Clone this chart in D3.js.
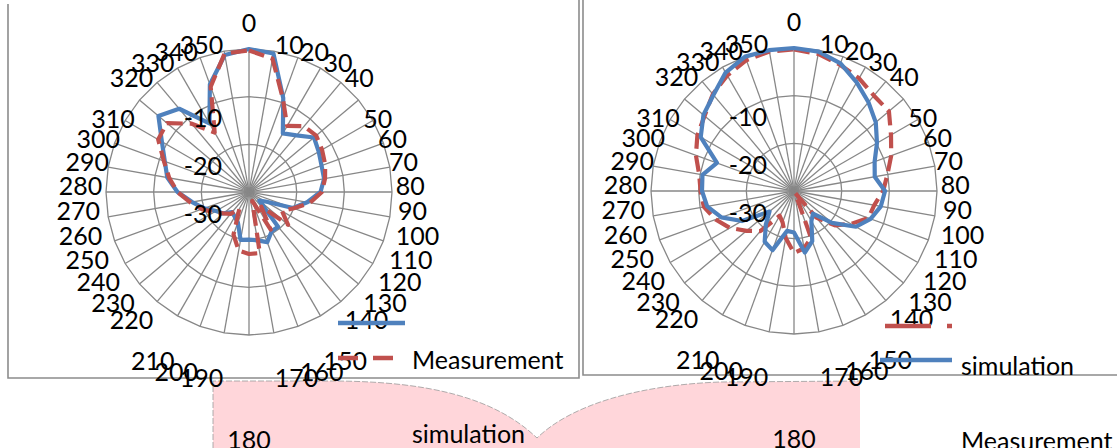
<!DOCTYPE html>
<html>
<head>
<meta charset="utf-8">
<script src="https://cdn.jsdelivr.net/npm/d3@7"></script>
<style>
  body { margin: 0; background: #fff; overflow: hidden; }
  text { font-family: Lato, "Open Sans", sans-serif; fill: #000; }
</style>
</head>
<body>
<svg id="svgContenedor" width="1117" height="448"></svg>
<script>
// angles of the radar categories (degrees)
const angles = d3.range(0, 360, 10);
const gridValues = [-20, -10, 0];
const axisLabels = [-10, -20, -30];

// left chart
const leftSimulation = [0, -0.5, -9, -15.8, -14.5, -12.2, -13.1, -13.8, -14, -15,
  -17.6, -20.2, -26, -27.2, -20.5, -20.5, -18.8, -19.7, -20, -19.8,
  -23.2, -24, -24.5, -23, -22, -20, -17.9, -15, -12.6, -11.2,
  -8.9, -5.2, -7.2, -13.4, -6, -0.8];
const leftMeasurement = [-0.3, -1.6, -9.2, -14, -12, -11.6, -12.3, -13, -13.8, -14.7,
  -17, -20, -22, -19.3, -26, -20.9, -28, -17, -17, -17.5,
  -20.5, -26, -24, -23, -21.5, -19.5, -17.5, -15, -13, -11,
  -8, -7.5, -11.3, -15.6, -6.5, -0.5];

// right chart
const rightMeasurement = [-0.3, -0.8, -1.8, -2.7, -3.9, -4, -6.5, -8.3, -10.1, -11.3,
  -12.9, -13.4, -16.2, -18.8, -22.7, -29.5, -19.5, -17.8, -17, -20,
  -23, -24, -19, -17, -14.5, -12.5, -10.8, -10.4, -9.8, -8.1,
  -6.6, -5.5, -3.5, -2, -0.8, -0.3];
const rightSimulation = [0, -0.3, -1.5, -3.7, -5.7, -7.6, -9.9, -12, -12.8, -10.9,
  -11.5, -12.9, -15, -19.6, -23.8, -22.7, -18.8, -16.9, -21.3, -21.5,
  -16.8, -17.7, -20.8, -23.3, -17.4, -13.8, -11.5, -10.7, -10.5, -12.8,
  -7.4, -5.2, -3.7, -1.3, 0, 0];

const BLUE = "#4f81bd";
const RED = "#c0504d";
const GRID = "#878787";
const FONT = "25px";

const svg = d3.select("#svgContenedor");

// pink shapes behind the charts
svg.append("path")
  .attr("d", "M213,448 V381 L330,381 C430,381 495,398 537,438 V448 Z")
  .attr("fill", "#ffd6da");
svg.append("path")
  .attr("d", "M537,448 V438 C572,404 640,385 720,382 L860,381 V448 Z")
  .attr("fill", "#ffd6da");
svg.append("path")
  .attr("d", "M213,448 V381 L330,381 C430,381 495,398 537,438 C572,404 640,385 720,382 L860,381")
  .attr("fill", "none")
  .attr("stroke", "#9a9a9a")
  .attr("stroke-width", 0.8)
  .attr("stroke-dasharray", "6,2");

// frames
svg.append("path")
  .attr("d", "M8,4 V378 H579 V0")
  .attr("fill", "none").attr("stroke", "#8c8c8c").attr("stroke-width", 1.6);
svg.append("path")
  .attr("d", "M583,0 V375 H1117")
  .attr("fill", "none").attr("stroke", "#8c8c8c").attr("stroke-width", 1.6);

function labelShift(deg) {
  const a = deg <= 180 ? deg : 360 - deg;
  if (a === 0) return -20;
  if (a === 180) return 99;
  if (a <= 40) return 0;
  if (a <= 140) return 23 - (a - 50) * 0.1;
  return 40;
}

function drawRadar(cx, cy, series, legend) {
  const r = d3.scaleLinear().domain([-30, 0]).range([0, 143]).clamp(true);
  const ang = d3.scaleLinear().domain([0, 360]).range([0, 2 * Math.PI]);
  const g = svg.append("g").attr("transform", `translate(${cx},${cy})`);

  // polygon grid
  const ring = d3.lineRadial().curve(d3.curveLinearClosed)
    .angle(a => ang(a.deg)).radius(a => r(a.v));
  gridValues.forEach(v => {
    g.append("path")
      .attr("d", ring(angles.map(deg => ({ deg, v }))))
      .attr("fill", "none").attr("stroke", GRID).attr("stroke-width", 1.3);
  });
  g.selectAll("line.spoke").data(angles).join("line")
    .attr("class", "spoke")
    .attr("x2", d => r(0) * Math.sin(ang(d)))
    .attr("y2", d => -r(0) * Math.cos(ang(d)))
    .attr("stroke", GRID).attr("stroke-width", 1.3);

  // series
  series.forEach(s => {
    const line = d3.lineRadial().curve(d3.curveLinearClosed)
      .angle((d, i) => ang(angles[i])).radius(d => r(d));
    g.append("path")
      .attr("d", line(s.values))
      .attr("fill", "none")
      .attr("stroke", s.color)
      .attr("stroke-width", 4.2)
      .attr("stroke-linejoin", "round")
      .attr("stroke-dasharray", s.dash || null);
  });

  // value axis labels
  g.selectAll("text.val").data(axisLabels).join("text")
    .attr("class", "val")
    .attr("x", -27)
    .attr("y", d => -r(d) + 22)
    .attr("dy", "0.35em")
    .attr("text-anchor", "end")
    .style("font-size", FONT)
    .text(d => d);

  // category labels
  const R = 149;
  g.selectAll("text.cat").data(angles).join("text")
    .attr("class", "cat")
    .attr("x", d => R * Math.sin(ang(d)))
    .attr("y", d => -R * Math.cos(ang(d)) + labelShift(d))
    .attr("dy", "0.35em")
    .attr("text-anchor", d => d === 0 || d === 180 ? "middle" : d < 180 ? "start" : "end")
    .style("font-size", FONT)
    .text(d => d);

  // legend
  legend.forEach(l => {
    svg.append("line")
      .attr("x1", l.x1).attr("x2", l.x2).attr("y1", l.y).attr("y2", l.y)
      .attr("stroke", l.color).attr("stroke-width", 4.5)
      .attr("stroke-dasharray", l.dash || null);
    svg.append("text")
      .attr("x", l.tx).attr("y", l.ty)
      .style("font-size", FONT)
      .text(l.name);
  });
}

drawRadar(249, 192, [
  { values: leftSimulation, color: BLUE },
  { values: leftMeasurement, color: RED, dash: "16,7" }
], [
  { name: "simulation", color: BLUE, x1: 338, x2: 405, y: 323, tx: 412, ty: 443 },
  { name: "Measurement", color: RED, dash: "20,15", x1: 338, x2: 405, y: 358, tx: 412, ty: 369 }
]);

drawRadar(794, 191, [
  { values: rightMeasurement, color: RED, dash: "16,7" },
  { values: rightSimulation, color: BLUE }
], [
  { name: "Measurement", color: RED, dash: "46,16", x1: 885, x2: 952, y: 326, tx: 961, ty: 450 },
  { name: "simulation", color: BLUE, x1: 880, x2: 952, y: 360, tx: 961, ty: 375 }
]);
</script>
</body>
</html>
